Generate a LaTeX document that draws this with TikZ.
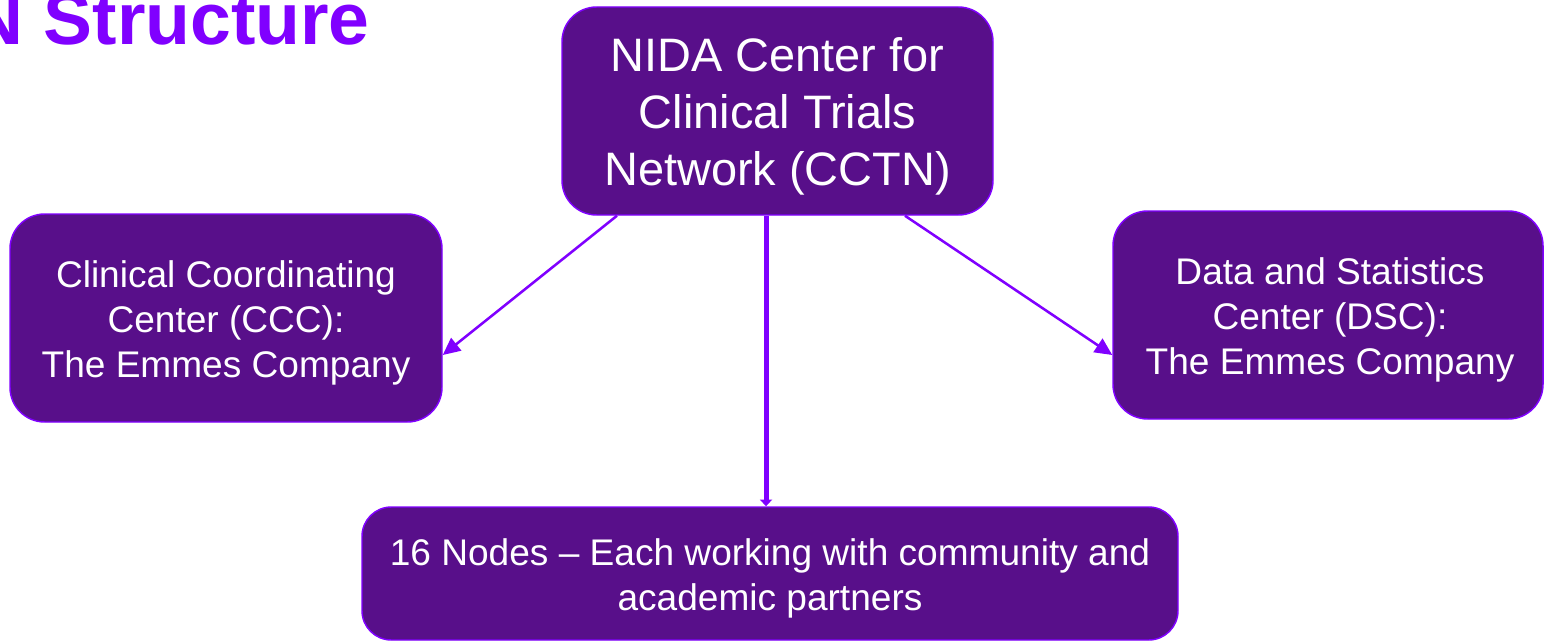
\documentclass[tikz,border=0pt]{standalone}
\usepackage{fontspec}
\setmainfont{Liberation Sans}
\usetikzlibrary{arrows.meta}
\definecolor{boxfill}{RGB}{88,15,138}
\definecolor{violetline}{RGB}{128,0,255}
\tikzset{
  pbox/.style={draw=violetline, line width=1.1pt, fill=boxfill, inner sep=0pt},
  boxtext/.style={text=white, align=center, inner sep=0pt},
  bigtext/.style={font=\fontsize{35.2pt}{42.7pt}\selectfont},
  midtext/.style={font=\fontsize{27.8pt}{33.8pt}\selectfont},
  diagarr/.style={draw=violetline, line width=1.9pt, -{Triangle[length=13pt,width=12pt]}},
  vertarr/.style={draw=violetline, line width=3.8pt, -{Triangle[length=5pt,width=9pt]}},
  titletext/.style={text=violetline, font=\fontsize{55pt}{60pt}\selectfont\bfseries, inner sep=0pt}
}
\begin{document}
\begin{tikzpicture}[x=0.75pt,y=-0.75pt]
\useasboundingbox (0,0) rectangle (1545,642);
\clip (0,0) rectangle (1545,642);
\node[titletext, anchor=base east] (title) at (370,45) {N Structure};
\node[pbox, minimum width=323.25pt, minimum height=156pt, rounded corners=26pt] (top) at (777.5,111) {};
\node[pbox, minimum width=324pt, minimum height=156pt, rounded corners=26pt] (left) at (226,318) {};
\node[pbox, minimum width=322.5pt, minimum height=156pt, rounded corners=26pt] (right) at (1328,315) {};
\node[pbox, minimum width=612pt, minimum height=99.75pt, rounded corners=22pt] (bottom) at (770,573.5) {};
\node[boxtext, bigtext] (toptext) at ([yshift=-3.75pt]top.center) {NIDA Center for\\Clinical Trials\\Network (CCTN)};
\node[boxtext, midtext] (lefttext) at ([yshift=-4pt]left.center) {Clinical Coordinating\\Center (CCC):\\The Emmes Company};
\node[boxtext, midtext] (righttext) at ([xshift=1.5pt,yshift=-3.5pt]right.center) {Data and Statistics\\Center (DSC):\\The Emmes Company};
\node[boxtext, midtext] (bottomtext) at ([yshift=-3.75pt]bottom.center) {16 Nodes -- Each working with community and\\academic partners};
\draw[diagarr] ([xshift=-120.4pt]top.south) -- ([yshift=-27.75pt]left.east);
\draw[diagarr] ([xshift=95.6pt]top.south) -- ([yshift=-30pt]right.west);
\draw[vertarr] ([xshift=-8.6pt]top.south) -- ([xshift=-8.6pt]top.south |- bottom.north);
\end{tikzpicture}
\end{document}
